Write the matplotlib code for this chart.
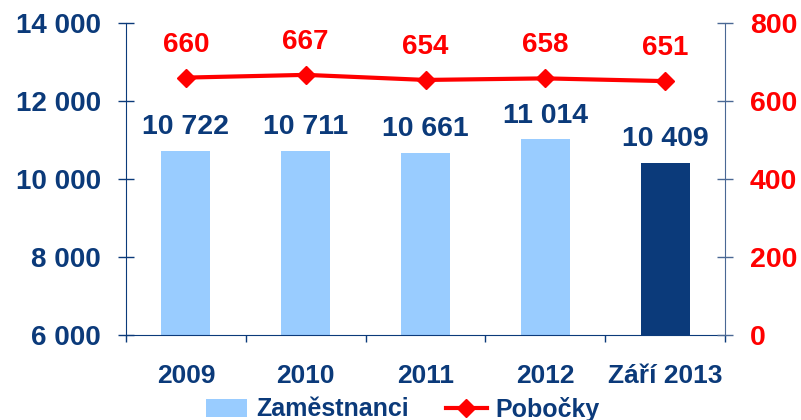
import matplotlib.pyplot as plt
import numpy as np

plt.rcParams['font.family'] = ['Liberation Sans', 'DejaVu Sans']
plt.rcParams['font.weight'] = 'bold'

# data
years = ['2009', '2010', '2011', '2012', 'Září 2013']
zamestnanci = [10722, 10711, 10661, 11014, 10409]
pobocky = [660, 667, 654, 658, 651]

navy = '#0B3A7A'
light = '#99CCFF'
red = '#FF0000'
grey_blue = '#4A6894'

def fmt(v):
    # czech thousands separator (space)
    return f'{v:,}'.replace(',', ' ')

fig = plt.figure(figsize=(8.01, 4.20), dpi=100)
ax = fig.add_axes([126 / 801, 85 / 420, 599 / 801, 312 / 420])
x = np.arange(len(years))
colors = [light] * (len(years) - 1) + [navy]
bars = ax.bar(x, zamestnanci, width=0.41, color=colors, label='Zaměstnanci')
ax.set_ylim(6000, 14000)
ax.set_xlim(-0.5, len(years) - 0.5)
ax.set_yticks(np.arange(6000, 14001, 2000))
ax.set_yticklabels([fmt(v) for v in range(6000, 14001, 2000)])
ax.set_xticks(x)
ax.set_xticklabels(years)
ax.set_xticks(np.arange(-0.5, len(years)), minor=True)
ax.tick_params(axis='y', direction='inout', length=12, width=1, colors=navy,
               labelsize=20, pad=12)
ax.tick_params(axis='x', which='major', length=0, colors=navy, labelsize=19, pad=21)
ax.tick_params(axis='x', which='minor', direction='out', length=5, width=1, color=navy)
ax.spines['top'].set_visible(False)
ax.spines['right'].set_visible(False)
ax.spines['left'].set_color(navy)
ax.spines['bottom'].set_color(navy)
for v, xi in zip(zamestnanci, x):
    ax.annotate(fmt(v), (xi, v), xytext=(0, 12.2), textcoords='offset points',
                ha='center', va='baseline', color=navy, fontsize=20.5,
                fontweight='bold')

ax2 = ax.twinx()
ax2.set_ylim(0, 800)
ax2.set_yticks(np.arange(0, 801, 200))
line, = ax2.plot(x, pobocky, color=red, lw=3, marker='D', markersize=9,
                 label='Pobočky')
ax2.tick_params(axis='y', direction='inout', length=12, width=1, color=grey_blue,
                labelcolor=red, labelsize=20.5, pad=12)
ax2.spines['top'].set_visible(False)
ax2.spines['left'].set_visible(False)
ax2.spines['bottom'].set_visible(False)
ax2.spines['right'].set_color(grey_blue)
for v, xi in zip(pobocky, x):
    ax2.annotate(str(v), (xi, v), xytext=(0, 18.7), textcoords='offset points',
                 ha='center', va='baseline', color=red, fontsize=20,
                 fontweight='bold')

fig.legend([bars, line], ['Zaměstnanci', 'Pobočky'], loc='center',
           bbox_to_anchor=(403 / 801, 1 - 409 / 420), ncol=2, frameon=False,
           fontsize=18, labelcolor=navy, handlelength=1.65, handletextpad=0.35,
           columnspacing=1.48, borderpad=0)

fig.savefig('out.png', dpi=100)
